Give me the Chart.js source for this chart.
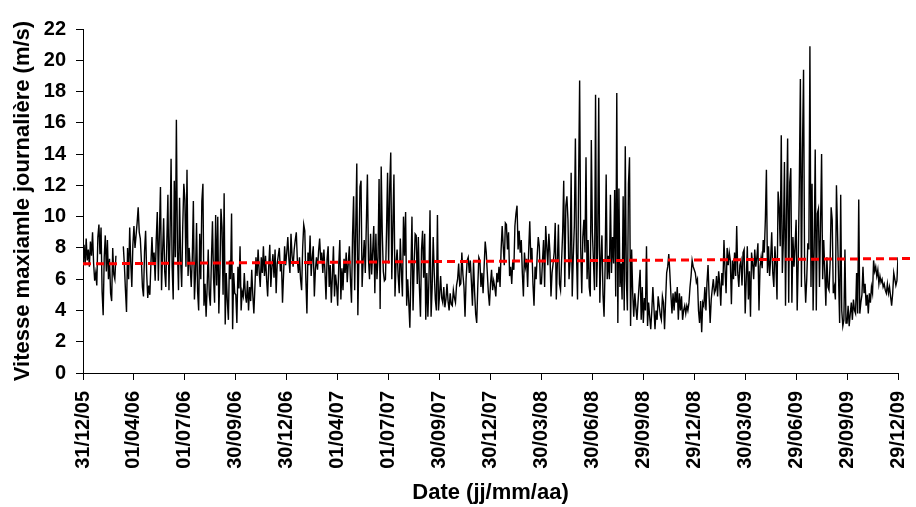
<!DOCTYPE html>
<html>
<head>
<meta charset="utf-8">
<script src="https://cdn.jsdelivr.net/npm/chart.js@4"></script>
<style>
html,body{margin:0;padding:0;background:#fff;}
#wrap{width:916px;height:507px;}
</style>
</head>
<body>
<div id="wrap"><canvas id="c" width="916" height="507"></canvas></div>
<script>
// x-axis tick labels (one every quarter)
const tickLabels = ['31/12/05','01/04/06','01/07/06','30/09/06','30/12/06','01/04/07','01/07/07','30/09/07','30/12/07','30/03/08','30/06/08','29/09/08','29/12/08','30/03/09','29/06/09','29/09/09','29/12/09'];
const pointsPerQuarter = 48;

// Daily maximum wind speed (m/s), sampled along the record, by year
const speed2006 = [
  7.4,8.2,6.9,8.6,7.2,7.9,6.8,8.4,7.5,9.0,7.0,5.9,6.4,5.6,8.7,9.5,7.6,9.3,5.2,3.7,7.4,8.8,6.5,8.5,6.0,7.3,5.1,4.6,8.0,6.3,6.0,7.5,null,null,null,null,null,null,8.1,6.9,5.3,3.9,8.0,6.0,9.3,7.1,5.5,8.2,
  9.4,8.0,8.8,9.6,10.6,9.0,8.6,7.2,5.5,4.9,7.8,9.1,6.4,4.8,5.6,5.0,7.0,8.7,6.9,7.7,5.9,8.5,10.3,5.9,9.0,11.9,5.3,7.7,9.9,6.5,5.5,8.4,11.4,5.3,8.8,13.7,6.8,4.7,12.3,7.4,16.2,7.8,5.3,11.2,7.2,5.5,9.4,12.1,
  11.1,6.8,13.0,6.2,8.0,6.8,5.5,7.4,11.0,4.7,6.3,9.6,5.2,4.0,8.9,6.0,11.0,12.1,4.3,5.7,3.6,5.5,7.9,5.0,4.3,7.2,9.7,6.1,4.5,10.1,5.6,10.0,3.8,6.4,10.5,9.3,5.0,11.5,3.1,6.4,4.6,3.4,7.2,6.0,10.2,2.8,6.4,5.1,
  5.0,3.2,6.8,5.4,8.1,4.0,5.2,4.9,6.4,5.0,4.5,5.9,4.0,5.5,4.6,6.6,5.0,3.8,5.5,7.4,6.2,7.9,6.5,5.5,7.4,6.4,8.1,6.2,7.5,6.0,4.9,6.8,8.2,5.5,6.8,7.6,6.1,7.9,5.1,7.0,7.5,8.0,6.5,7.1,4.5,6.3,8.1,6.9
];
const speed2007 = [
  7.7,8.7,7.3,6.4,8.9,7.5,6.8,7.9,8.5,9.0,7.2,6.4,7.4,6.0,5.3,8.0,9.5,9.1,6.0,3.8,7.7,6.9,8.8,6.2,7.4,8.1,4.9,6.6,7.4,6.6,7.8,8.6,7.2,7.7,6.4,7.9,6.5,4.7,7.3,8.1,5.5,6.9,4.5,6.2,8.1,4.9,6.3,5.6,
  4.3,6.9,8.5,4.7,6.7,5.3,7.3,6.4,7.7,5.8,7.1,8.1,6.0,4.5,8.8,11.3,5.3,9.2,13.4,3.7,7.5,11.9,12.3,5.5,7.2,8.5,6.4,9.5,12.7,7.3,6.0,8.9,6.3,7.8,9.4,5.1,8.9,6.0,7.4,12.4,4.1,13.2,9.0,6.5,5.9,6.0,9.0,12.8,
  7.0,11.9,14.1,6.0,9.5,12.7,4.9,7.0,7.9,6.2,5.1,8.6,6.5,4.9,10.0,7.5,10.3,4.3,6.0,4.5,2.9,6.4,10.0,4.0,6.8,8.9,8.8,5.7,8.7,5.5,3.6,7.9,9.1,6.1,8.9,3.4,6.4,3.6,6.0,10.4,3.6,5.4,8.7,6.4,4.7,4.0,10.1,4.0,
  5.0,6.2,4.8,4.5,5.5,4.2,4.7,5.7,4.6,4.0,5.1,4.4,4.3,5.3,4.8,4.5,5.6,6.0,7.0,5.6,5.7,7.7,6.3,5.5,3.6,6.0,7.2,7.4,6.4,7.2,5.8,4.3,7.2,5.2,3.8,3.2,5.5,7.4,7.2,5.5,6.4,5.1,6.8,8.4,7.7,6.4,5.1,4.3
];
const speed2008 = [
  5.7,6.6,5.3,5.9,5.5,4.9,6.4,5.8,6.8,5.5,7.9,9.4,8.1,6.9,9.6,9.5,7.9,9.0,6.2,6.8,5.7,7.2,6.6,9.4,10.2,10.7,7.9,9.1,7.7,8.5,6.4,4.9,7.7,6.8,7.3,5.5,7.9,9.7,7.2,8.0,5.7,4.3,6.8,6.0,7.5,8.7,8.1,5.7,
  5.7,7.2,8.5,5.5,9.4,8.1,6.9,8.9,7.7,4.9,6.4,7.0,7.7,9.6,4.7,7.0,9.5,5.7,5.3,7.2,9.0,12.3,5.5,10.7,11.3,9.8,6.0,7.2,12.8,4.9,7.4,9.4,15.0,7.7,4.7,12.0,18.7,8.0,5.1,8.7,9.8,7.7,13.8,6.0,8.5,5.5,4.9,14.9,
  9.0,7.2,5.3,17.8,5.5,8.1,17.6,4.5,7.2,8.8,5.0,3.6,6.8,12.7,6.0,7.5,6.0,11.4,6.4,8.7,7.0,11.7,4.9,17.9,3.2,11.8,5.5,7.0,4.7,11.3,4.0,14.5,6.0,4.0,12.1,13.8,3.0,7.9,5.1,3.6,5.1,4.2,3.4,4.5,5.6,6.6,3.4,5.5,
  3.2,4.8,4.0,8.1,3.0,4.5,3.6,2.8,4.0,5.5,4.2,2.8,4.0,3.4,4.9,4.3,3.7,3.4,4.9,4.5,2.8,4.6,6.4,6.8,7.6,6.4,5.0,3.8,5.1,4.0,5.2,4.5,5.5,3.4,5.1,4.0,4.9,3.4,4.0,4.3,3.8,4.3,4.0,4.5,5.5,6.2,7.2,6.8
];
const speed2009 = [
  6.6,6.4,5.8,6.0,4.0,3.2,4.6,2.6,4.5,4.3,5.5,4.0,5.8,6.9,4.9,3.2,4.7,5.4,6.0,5.1,5.3,6.2,4.9,6.5,5.7,4.3,6.4,5.6,8.5,6.6,5.1,8.0,6.9,7.7,7.2,4.4,7.2,6.0,7.7,6.2,9.4,6.4,5.5,6.9,7.2,5.6,7.7,7.9,
  3.8,6.0,8.1,4.7,6.5,3.6,7.7,7.0,6.0,7.9,6.8,7.4,8.3,4.0,6.8,7.4,6.7,8.5,7.7,9.8,13.0,6.4,8.1,6.2,7.3,9.0,6.4,5.5,8.1,6.9,4.7,11.6,10.6,8.1,15.2,6.4,8.5,13.5,4.3,10.4,15.0,4.5,12.2,13.1,4.5,8.7,6.8,8.1,
  9.8,4.0,7.2,12.0,18.8,5.5,14.3,19.4,6.4,4.5,6.0,8.3,7.9,20.9,5.5,12.1,4.0,8.0,14.3,4.0,10.2,10.5,5.5,9.4,14.0,6.0,8.5,6.5,4.3,7.4,5.5,5.3,7.0,10.6,9.8,5.1,5.5,4.7,12.0,9.1,6.0,3.2,11.4,4.0,3.0,3.4,7.9,3.2,
  3.2,4.3,3.0,3.8,4.5,3.4,4.7,4.0,3.8,6.4,3.8,11.1,3.8,4.5,5.0,6.8,5.1,5.7,4.3,5.0,3.8,5.1,4.5,5.5,5.1,7.2,6.5,6.8,6.2,6.6,5.7,6.2,5.8,6.0,5.5,5.7,5.3,5.1,5.7,5.1,5.5,4.9,4.3,5.1,6.4,6.0,5.6,5.9,
  7.4
];

// Linear trend (red dashed line): value at start and at its (slightly extended) end
const trendStart = 6.98;
const trendEnd = 7.32;
const trendEndIndex = 782;

const speeds = [].concat(speed2006, speed2007, speed2008, speed2009);
const lastIndex = (tickLabels.length - 1) * pointsPerQuarter;
const seriesData = speeds.map((v, i) => ({x: i, y: v}));
const trendData = [{x: 0, y: trendStart}, {x: trendEndIndex, y: trendEnd}];

const FONT = "'Liberation Sans', Arial, Helvetica, sans-serif";

new Chart(document.getElementById('c'), {
  type: 'line',
  data: {
    datasets: [
      {
        label: 'Tendance',
        data: trendData,
        borderColor: '#FF0000',
        borderWidth: 3,
        borderDash: [8, 5],
        pointRadius: 0,
        fill: false,
        clip: false
      },
      {
        label: 'Vitesse maximale journalière',
        data: seriesData,
        borderColor: '#000000',
        borderWidth: 1.4,
        pointRadius: 0,
        tension: 0,
        spanGaps: false,
        fill: false
      }
    ]
  },
  options: {
    responsive: false,
    animation: false,
    devicePixelRatio: 1,
    layout: {padding: {top: 29, right: 18, bottom: 0, left: 0}},
    plugins: {legend: {display: false}, tooltip: {enabled: false}},
    scales: {
      x: {
        type: 'linear',
        min: 0,
        max: lastIndex,
        afterBuildTicks: (s) => { s.ticks = tickLabels.map((_, i) => ({value: i * pointsPerQuarter})); },
        afterFit: (s) => { s.height = 134; s.paddingRight = 0; s.paddingLeft = 0; },
        ticks: {
          autoSkip: false,
          minRotation: 90,
          maxRotation: 90,
          padding: 11,
          color: '#000',
          font: {family: FONT, size: 20, weight: 'bold'},
          callback: (v, i) => tickLabels[i]
        },
        grid: {drawOnChartArea: false, drawTicks: true, tickLength: 7, color: '#000', lineWidth: 1},
        border: {color: '#000', width: 1},
        title: {
          display: true,
          text: 'Date (jj/mm/aa)',
          color: '#000',
          font: {family: FONT, size: 22, weight: 'bold'},
          padding: {top: 0, bottom: 1}
        }
      },
      y: {
        min: 0,
        max: 22,
        afterFit: (s) => { s.width = 83; },
        ticks: {
          stepSize: 2,
          padding: 10,
          color: '#000',
          font: {family: FONT, size: 20, weight: 'bold'}
        },
        grid: {drawOnChartArea: false, drawTicks: true, tickLength: 7, color: '#000', lineWidth: 1},
        border: {color: '#000', width: 1},
        title: {
          display: true,
          text: 'Vitesse maxiamle journalière (m/s)',
          color: '#000',
          font: {family: FONT, size: 22, weight: 'bold'},
          padding: {top: 10, bottom: 0}
        }
      }
    }
  }
});
</script>
</body>
</html>
